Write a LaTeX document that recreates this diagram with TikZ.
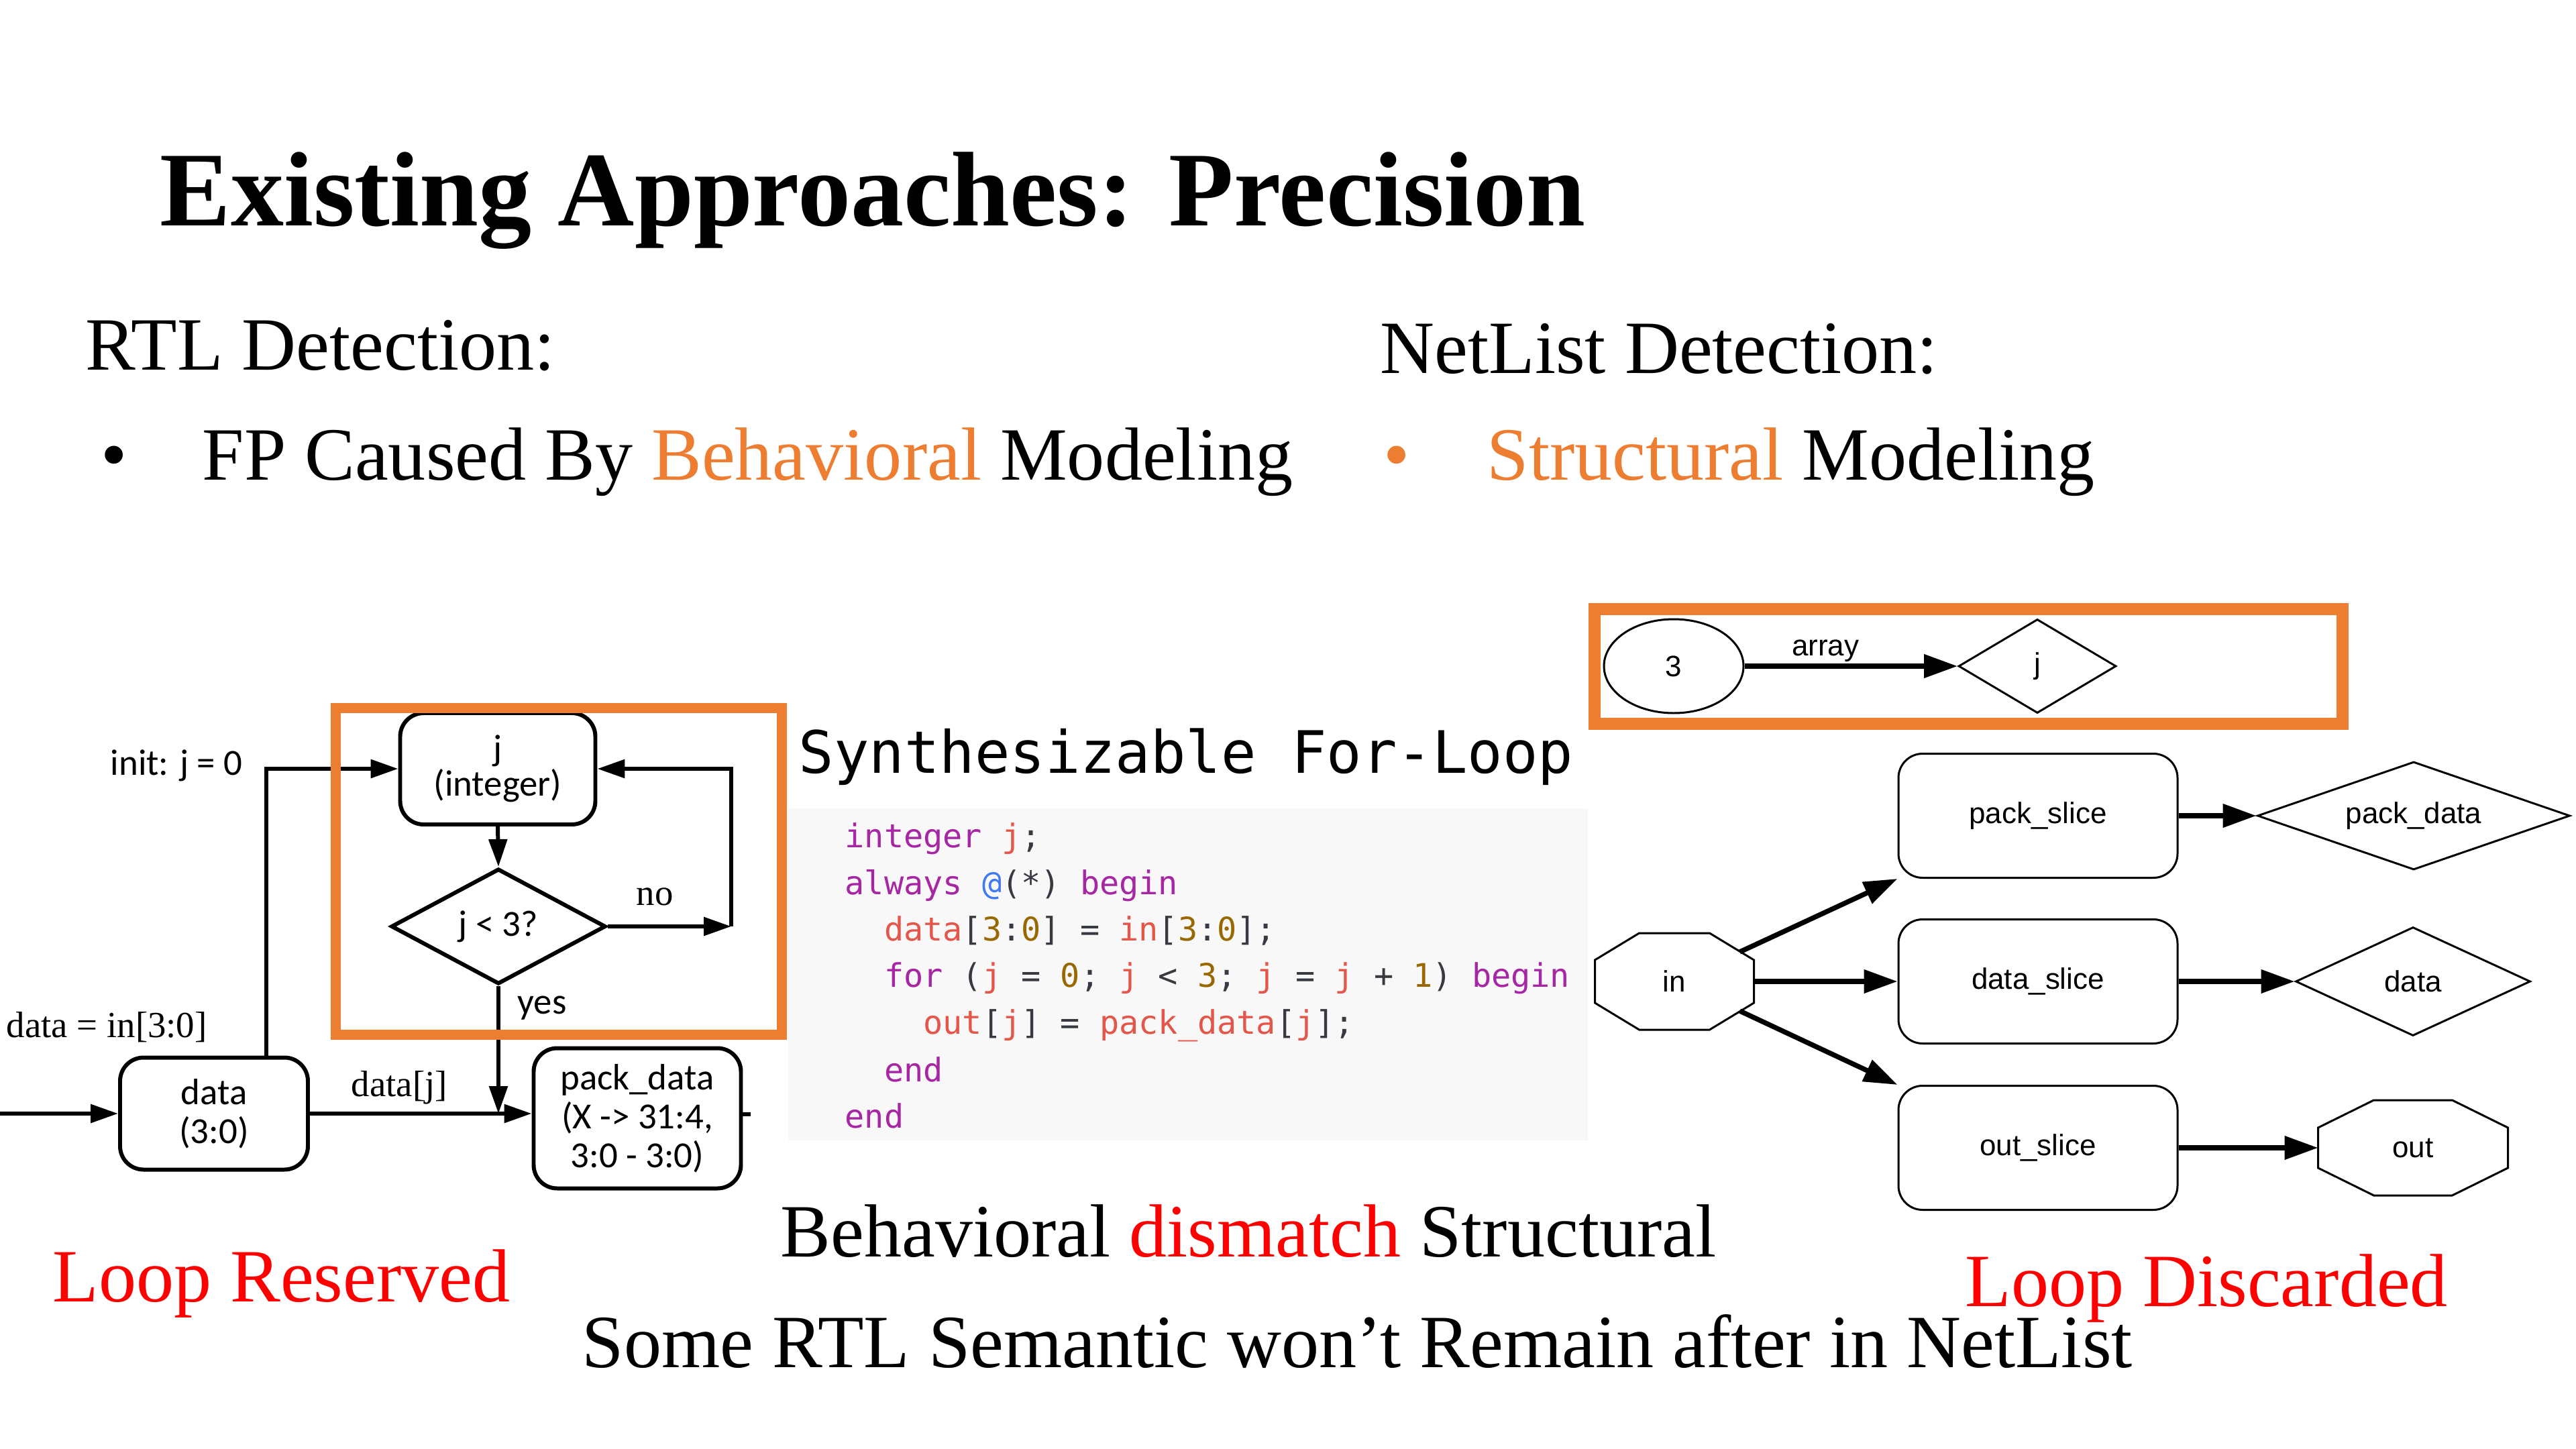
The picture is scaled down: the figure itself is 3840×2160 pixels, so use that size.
\documentclass[tikz,border=0pt]{standalone}
\usepackage{fontspec}
\setmainfont{Liberation Serif}
\newfontfamily\calib{Carlito}
\newfontfamily\arialf{Liberation Sans}
\newfontfamily\dejamono{DejaVu Sans Mono}
\usetikzlibrary{shapes.geometric,arrows.meta}
\definecolor{orng}{HTML}{ED7D31}
\definecolor{redt}{HTML}{FF0000}
\definecolor{kw}{HTML}{A626A4}
\definecolor{vr}{HTML}{E45649}
\definecolor{nm}{HTML}{986801}
\definecolor{at}{HTML}{4078F2}
\definecolor{pn}{HTML}{383A42}
\definecolor{codebg}{HTML}{F8F8F8}
\begin{document}
\begin{tikzpicture}[x=0.1mm,y=-0.1mm,
  txt/.style={inner sep=0pt, anchor=base west, font=\fontsize{31.9}{36}\selectfont},
  fcbox/.style={draw, line width=1.7pt, rounded corners=3.5mm, align=center, inner sep=0pt, font=\calib\fontsize{15.6}{16.5}\selectfont},
  fcdia/.style={draw, diamond, line width=1.7pt, inner sep=0pt, font=\calib\fontsize{15.6}{16.5}\selectfont},
  fcarr/.style={line width=1.7pt, -{Triangle[length=4.1mm,width=2.7mm]}},
  fcsans/.style={inner sep=0pt, anchor=base west, font=\calib\fontsize{15.6}{16.5}\selectfont},
  fcserif/.style={inner sep=0pt, anchor=base west, font=\fontsize{15.6}{17}\selectfont},
  gnode/.style={draw, line width=0.85pt, inner sep=0pt, font=\arialf\fontsize{12.5}{14}\selectfont},
  garr/.style={line width=2.1pt, -{Triangle[length=5mm,width=3.4mm]}},
  codeln/.style={inner sep=0pt, anchor=base west, font=\dejamono\fontsize{13.8}{15}\selectfont\color{pn}},
  obox/.style={draw=orng}
]
\useasboundingbox (0,0) rectangle (3840,2160);

% ---------- header texts ----------
\node[inner sep=0pt, anchor=base west, font=\bfseries\fontsize{45}{50}\selectfont] (title) at (238,336) {Existing Approaches: Precision};
\node[txt] (rtl) at (127,551) {RTL Detection:};
\node[txt] (net) at (2057,556) {NetList Detection:};
\node[txt] (b1) at (150,715) {•};
\node[txt] (fp) at (301,715) {FP Caused By \textcolor{orng}{Behavioral} Modeling};
\node[txt, text=orng] (b2) at (2062,715) {•};
\node[txt] (sm) at (2216,715) {\textcolor{orng}{Structural} Modeling};

% ---------- left flowchart ----------
\node[fcbox, minimum width=29.1mm, minimum height=16.6mm] (jint) at (742,1146) {\raisebox{-0.5mm}{j}\\(integer)};
\node[fcdia, aspect=1.86, minimum width=32mm, minimum height=17.2mm] (dia) at (743,1381) {j < 3?};
\node[fcbox, minimum width=28mm, minimum height=16.7mm] (data) at (319,1660) {data\\(3:0)};
\node[fcbox, minimum width=30.9mm, minimum height=20.9mm] (pack) at (950,1667) {pack\_data\\(X -> 31:4,\\3:0 - 3:0)};
\coordinate (inL) at (0,1660);
\coordinate (cr) at (1090,1381);

\draw[fcarr] (inL) -- (data.west);
\draw[fcarr] ([xshift=7.8mm]data.north) |- (jint.west);
\draw[fcarr] (jint.south) -- (dia.north);
\draw[fcarr] (dia.east) -- (cr);
\draw[fcarr] (cr) |- (jint.east);
\draw[fcarr] (data.east) -- (pack.west |- data.east);
\draw[fcarr] (dia.south) -- (dia.south |- data.east);
\draw[line width=1.7pt] ([yshift=0.6mm]pack.east) -- ++(12,0);

\node[fcsans] (initl) at (164,1155) {init: j = 0};
\node[fcserif] (dl) at (9,1546) {data = in[3:0]};
\node[fcserif] (djl) at (523,1634) {data[j]};
\node[fcserif] (nol) at (948,1349) {no};
\node[fcsans] (yesl) at (771,1511) {yes};

% ---------- code ----------
\fill[codebg] (1175,1205) rectangle (2367,1700);
\node[inner sep=0pt, anchor=base west, font=\dejamono\fontsize{24.8}{28}\selectfont] (ctitle) at (1190,1152) {Synthesizable For-Loop};
\node[codeln] (c1) at (1259,1263) {\textcolor{kw}{integer} \textcolor{vr}{j};};
\node[codeln] (c2) at (1259,1333) {\textcolor{kw}{always} \textcolor{at}{@}(*) \textcolor{kw}{begin}};
\node[codeln] (c3) at (1317.4,1402) {\textcolor{vr}{data}[\textcolor{nm}{3}:\textcolor{nm}{0}] = \textcolor{vr}{in}[\textcolor{nm}{3}:\textcolor{nm}{0}];};
\node[codeln] (c4) at (1317.4,1471) {\textcolor{kw}{for} (\textcolor{vr}{j} = \textcolor{nm}{0}; \textcolor{vr}{j} < \textcolor{nm}{3}; \textcolor{vr}{j} = \textcolor{vr}{j} + \textcolor{nm}{1}) \textcolor{kw}{begin}};
\node[codeln] (c5) at (1375.8,1541) {\textcolor{vr}{out}[\textcolor{vr}{j}] = \textcolor{vr}{pack\_data}[\textcolor{vr}{j}];};
\node[codeln] (c6) at (1317.4,1612) {\textcolor{kw}{end}};
\node[codeln] (c7) at (1259,1681) {\textcolor{kw}{end}};

% ---------- right graph ----------
\node[gnode, ellipse, minimum width=20.8mm, minimum height=14mm] (three) at (2495,993) {3};
\node[gnode, diamond, aspect=1.68, minimum width=23.5mm, minimum height=14mm] (jd) at (3037,993) {j};
\draw[garr] (three) -- (jd) node[pos=0.38, anchor=south, inner sep=0.3mm, font=\arialf\fontsize{12.5}{14}\selectfont] {array};

\node[gnode, rounded corners=3.6mm, minimum width=41.6mm, minimum height=18.5mm] (ps) at (3038,1216) {pack\_slice};
\node[gnode, rounded corners=3.6mm, minimum width=41.6mm, minimum height=18.5mm] (ds) at (3038,1463) {data\_slice};
\node[gnode, rounded corners=3.6mm, minimum width=41.6mm, minimum height=18.5mm] (os) at (3038,1711) {out\_slice};
\node[gnode, diamond, aspect=2.9, minimum width=46.6mm, minimum height=16.1mm] (pd) at (3598,1216) {pack\_data};
\node[gnode, diamond, aspect=2.16, minimum width=35mm, minimum height=16.2mm] (dd) at (3597,1463) {data};
\node[gnode, draw=none, minimum width=28mm, minimum height=13.9mm] (out) at (3597,1711) {out};
\node[gnode, draw=none, minimum width=23.4mm, minimum height=14.1mm] (in) at (2496,1463) {in};

\draw[line width=0.85pt] ([xshift=6.6mm]in.north west) -- ([xshift=-6.6mm]in.north east) -- ([yshift=-4mm]in.north east) -- ([yshift=4mm]in.south east) -- ([xshift=-6.6mm]in.south east) -- ([xshift=6.6mm]in.south west) -- ([yshift=4mm]in.south west) -- ([yshift=-4mm]in.north west) -- cycle;
\draw[line width=0.85pt] ([xshift=8.3mm]out.north west) -- ([xshift=-8.3mm]out.north east) -- ([yshift=-4.1mm]out.north east) -- ([yshift=4.1mm]out.south east) -- ([xshift=-8.3mm]out.south east) -- ([xshift=8.3mm]out.south west) -- ([yshift=4.1mm]out.south west) -- ([yshift=-4.1mm]out.north west) -- cycle;

\draw[garr] ([xshift=-2.1mm,yshift=-2.8mm]in.north east) -- (ps.south west);
\draw[garr] (in.east) -- (ds.west);
\draw[garr] ([xshift=-2.1mm,yshift=2.8mm]in.south east) -- (os.north west);
\draw[garr] (ps.east) -- (pd.west);
\draw[garr] (ds.east) -- (dd.west);
\draw[garr] (os.east) -- (out.west);

% ---------- orange boxes ----------
\draw[obox, line width=1.5mm] (500,1055) rectangle (1165,1542);
\draw[obox, line width=1.8mm] (2377,908) rectangle (3492,1079);

% ---------- bottom texts ----------
\node[txt] (bds) at (1163,1873) {Behavioral \textcolor{redt}{dismatch} Structural};
\node[txt, text=redt] (lr) at (78,1940) {Loop Reserved};
\node[txt, text=redt] (ld) at (2929,1947) {Loop Discarded};
\node[txt] (some) at (867,2038) {Some RTL Semantic won’t Remain after in NetList};
\end{tikzpicture}
\end{document}
